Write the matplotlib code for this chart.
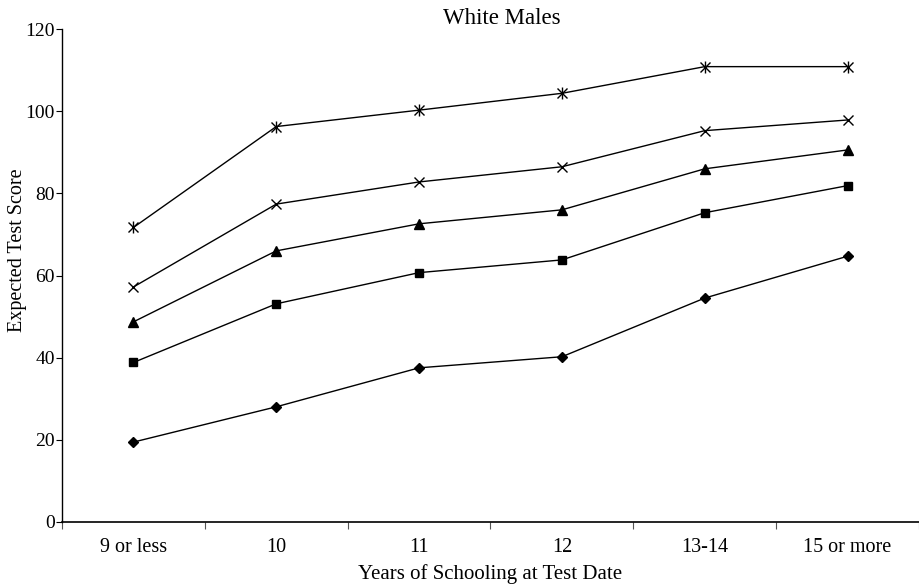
import matplotlib
matplotlib.use("Agg")
import matplotlib.pyplot as plt
import numpy as np

categories = ["9 or less", "10", "11", "12", "13-14", "15 or more"]
s_diamond = [19.4, 28.0, 37.5, 40.2, 54.5, 64.7]
s_square = [38.8, 53.1, 60.7, 63.8, 75.3, 81.9]
s_triangle = [48.7, 66.0, 72.6, 76.0, 86.0, 90.6]
s_x = [57.2, 77.4, 82.8, 86.5, 95.3, 97.9]
s_star = [71.7, 96.3, 100.3, 104.4, 110.9, 110.9]
yticks = [0, 20, 40, 60, 80, 100, 120]

plt.rcParams['font.family'] = ['Liberation Serif', 'DejaVu Serif']

fig = plt.figure(figsize=(9.2, 5.86), dpi=100)
ax = fig.add_axes([62/920, 1 - 521.7/586, (919 - 62)/920, (521.7 - 29.3)/586])

x = np.arange(len(categories))
kw = dict(color='black', linewidth=1.0)
ax.plot(x, s_diamond, marker='D', markersize=5, **kw)
ax.plot(x, s_square, marker='s', markersize=5.5, **kw)
ax.plot(x, s_triangle, marker='^', markersize=6.5, **kw)
ax.plot(x, s_x, marker='x', markersize=6.5, markeredgewidth=1.0, **kw)
ax.plot(x, s_star, marker='x', markersize=6.5, markeredgewidth=1.0, **kw)
ax.plot(x, s_star, marker='|', markersize=8, markeredgewidth=1.0, linestyle='none', color='black')

ax.set_xlim(-0.5, len(categories) - 0.5)
ax.set_ylim(0, 120)
ax.set_yticks(yticks)
ax.set_xticks(np.arange(-0.5, len(categories)), minor=False)
ax.set_xticklabels([])
ax.set_xticks(x, minor=True)
ax.set_xticklabels(categories, minor=True, fontsize=14.5)
ax.tick_params(axis='x', which='minor', length=0, pad=12)
ax.tick_params(axis='x', which='major', length=5, direction='out', width=0.8, color='#555555')
ax.tick_params(axis='y', length=4, direction='out', width=0.8, labelsize=14, pad=1)

for s in ['top', 'right']:
    ax.spines[s].set_visible(False)
ax.spines['left'].set_linewidth(1.0)
ax.spines['bottom'].set_linewidth(1.2)

ax.set_ylabel("Expected Test Score", fontsize=14.5)
ax.yaxis.set_label_coords(-0.041, 0.552)
ax.set_xlabel("Years of Schooling at Test Date", fontsize=15)
ax.xaxis.set_label_coords(0.5, -0.086)
fig.text(501.5/920, 1 - 18/586, "White Males", ha='center', va='center', fontsize=16.5)

fig.savefig("out.png", dpi=100)
